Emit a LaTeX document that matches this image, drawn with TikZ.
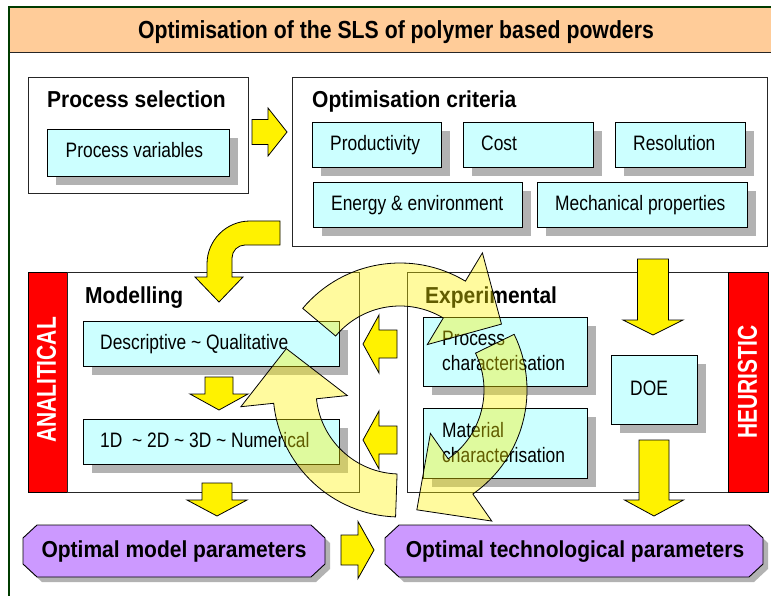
\documentclass[tikz,border=0pt]{standalone}
\usepackage{fontspec}
\setmainfont{Liberation Sans}
\usetikzlibrary{shadows}

\definecolor{bandorange}{RGB}{255,204,153}
\definecolor{boxcyan}{RGB}{204,255,255}
\definecolor{lilac}{RGB}{204,153,255}
\definecolor{framegreen}{RGB}{0,60,0}
\definecolor{shadegray}{RGB}{178,178,178}

% vertical block arrow: centre x, top y, head base y, tip y, half shaft, half head
\newcommand\vblock[6]{\draw[yarrow] ({#1-#5},#2) -- ({#1+#5},#2) -- ({#1+#5},#3) -- ({#1+#6},#3) -- (#1,#4) -- ({#1-#6},#3) -- ({#1-#5},#3) -- cycle;}
% horizontal block arrow: centre y, tail x, head base x, tip x, half shaft, half head
\newcommand\hblock[6]{\draw[yarrow] (#2,{#1-#5}) -- (#3,{#1-#5}) -- (#3,{#1-#6}) -- (#4,#1) -- (#3,{#1+#6}) -- (#3,{#1+#5}) -- (#2,{#1+#5}) -- cycle;}
% chamfered result box with its shadow: x1, y1, x2, y2
\newcommand\octbox[4]{%
  \fill[shadegray, shift={(5,5)}] ({#1+14},#2) -- ({#3-14},#2) -- (#3,{#2+13}) -- (#3,{#4-13}) -- ({#3-14},#4) -- ({#1+14},#4) -- (#1,{#4-13}) -- (#1,{#2+13}) -- cycle;
  \draw[line width=0.9pt, fill=lilac] ({#1+14},#2) -- ({#3-14},#2) -- (#3,{#2+13}) -- (#3,{#4-13}) -- ({#3-14},#4) -- ({#1+14},#4) -- (#1,{#4-13}) -- (#1,{#2+13}) -- cycle;}
% circular arrow around the cycle centre: tail angle, head base angle, tip angle
\newcommand\cycarrow[3]{\draw[cyc] (#1:127) arc[start angle=#1, end angle=#2, radius=127] -- (#2:160) -- (#3:121) -- (#2:53) -- (#2:84) arc[start angle=#2, end angle=#1, radius=84] -- cycle;}
% lettering drawn taller than the font's natural proportions; lines stacked, baseline at the last line
\newcommand\tallstack[2]{\scalebox{1}[#1]{\begin{tabular}[b]{@{}l@{}}#2\end{tabular}}}

\begin{document}
\begin{tikzpicture}[x=1pt,y=-1pt,
  panel/.style={draw=black!85, line width=0.9pt, fill=white},
  cbox/.style={draw=black, line width=0.9pt, fill=boxcyan, anchor=north west, inner sep=0pt,
    drop shadow={shadow xshift=9pt, shadow yshift=-9pt, fill=shadegray, draw=none, opacity=1}},
  lbl/.style={anchor=base west, inner sep=0pt, font=\fontsize{17.4}{20.8}\selectfont},
  head/.style={anchor=base west, inner sep=0pt, font=\fontsize{21}{25}\selectfont\bfseries},
  redbar/.style={draw=black, line width=0.8pt, fill=red},
  sidetxt/.style={rotate=90, text=white, inner sep=0pt, font=\fontsize{21}{25}\selectfont\bfseries},
  restxt/.style={anchor=base, inner sep=0pt, font=\fontsize{21}{25}\selectfont\bfseries},
  yarrow/.style={draw=black, line width=0.8pt, fill=yellow, line join=miter},
  cyc/.style={draw=black, line width=0.8pt, fill=yellow, fill opacity=0.38, line join=miter}]

\useasboundingbox (0,0) rectangle (771,596);
\clip (0,0) rectangle (771,596);
\fill[white] (0,0) rectangle (771,596);

% outer frame and title band
\fill[bandorange] (9,7) rectangle (800,53);
\draw[black!85, line width=1pt] (9,53) -- (800,53);
\draw[framegreen, line width=1.3pt] (9,7) rectangle (800,620);
\node[anchor=base, inner sep=0pt, font=\fontsize{24}{26}\selectfont\bfseries] (title) at (396,39)
  {\scalebox{0.885}[1.03]{Optimisation of the SLS of polymer based powders}};

% process selection
\draw[panel] (28,77) rectangle (248,193);
\node[head] (selhead) at (47,108) {\scalebox{1}[1.1]{Process selection}};
\node[cbox, minimum width=182pt, minimum height=47pt] (pv) at (47,129) {};
\node[lbl] (pvtxt) at (65.5,158) {\tallstack{1.2}{Process variables}};

% optimisation criteria
\draw[panel] (292,77) rectangle (767,246);
\node[head] (crithead) at (312,108) {\scalebox{1}[1.1]{Optimisation criteria}};
\node[cbox, minimum width=129pt, minimum height=45pt] (prod) at (312,122) {};
\node[cbox, minimum width=130pt, minimum height=45pt] (cost) at (463,122) {};
\node[cbox, minimum width=130pt, minimum height=45pt] (res) at (615,122) {};
\node[cbox, minimum width=209pt, minimum height=45pt] (energy) at (313,182) {};
\node[cbox, minimum width=210pt, minimum height=45pt] (mech) at (537,182) {};
\node[lbl] (prodtxt) at (330,150.5) {\tallstack{1.2}{Productivity}};
\node[lbl] (costtxt) at (481,150.5) {\tallstack{1.2}{Cost}};
\node[lbl] (restxt) at (633,150.5) {\tallstack{1.2}{Resolution}};
\node[lbl] (energytxt) at (331,210.5) {\tallstack{1.2}{Energy \& environment}};
\node[lbl] (mechtxt) at (555,210.5) {\tallstack{1.2}{Mechanical properties}};

% modelling panel
\draw[redbar] (28,272) rectangle (67,492);
\draw[panel] (67,272) rectangle (359,492);
\node[sidetxt] (anal) at (46.5,380) {\scalebox{1}[1.3]{ANALITICAL}};
\node[head] (modhead) at (85,303) {\scalebox{1}[1.1]{Modelling}};
\node[cbox, minimum width=256pt, minimum height=45pt] (desc) at (83,321) {};
\node[cbox, minimum width=256pt, minimum height=45pt] (num) at (83,419) {};
\node[lbl] (desctxt) at (100,349.5) {\tallstack{1.2}{Descriptive \textasciitilde{} Qualitative}};
\node[lbl] (numtxt) at (100,447.5) {\tallstack{1.2}{1D\ \ \textasciitilde{} 2D \textasciitilde{} 3D \textasciitilde{} Numerical}};

% experimental panel
\draw[panel] (407,272) rectangle (728,492);
\draw[redbar] (728,272) rectangle (768,492);
\node[sidetxt] (heur) at (747.5,382) {\scalebox{1}[1.3]{HEURISTIC}};
\node[head] (exphead) at (425,303) {\scalebox{1}[1.1]{Experimental}};
\node[cbox, minimum width=164pt, minimum height=69pt] (pchar) at (423,317) {};
\node[cbox, minimum width=164pt, minimum height=70pt] (mchar) at (423,408) {};
\node[cbox, minimum width=86pt, minimum height=69pt] (doe) at (611,355) {};
\node[lbl] (pchartxt) at (442,370) {\tallstack{1.2}{Process\\characterisation}};
\node[lbl] (mchartxt) at (442,462) {\tallstack{1.2}{Material\\characterisation}};
\node[lbl] (doetxt) at (630,395.5) {\tallstack{1.2}{DOE}};

% solid block arrows
\hblock{132}{252}{268}{287}{12.5}{24}
\draw[yarrow] (280,221) -- (250,221) arc[start angle=-90, end angle=-180, radius=43]
  -- (207,277) -- (195,277) -- (219,302) -- (243,277) -- (232,277) -- (232,258)
  arc[start angle=180, end angle=270, radius=13] -- (280,245) -- cycle;
\vblock{219}{377}{394}{410}{14}{29}
\vblock{217}{483}{500}{516}{15}{30}
\vblock{653}{259}{320}{335}{15.5}{30}
\vblock{654}{440}{500}{516}{15}{29.5}
\hblock{344}{397}{379}{363}{14}{29}
\hblock{440}{397}{379}{363}{14}{29}
\hblock{550}{341}{358}{374}{15}{28.5}

% results
\octbox{23}{525}{325}{577}
\octbox{385}{525}{763}{577}
\node[restxt] (optmodel) at (174,557) {\scalebox{1}[1.1]{Optimal model parameters}};
\node[restxt] (opttech) at (575,557) {\scalebox{1}[1.1]{Optimal technological parameters}};

% iteration cycle
\begin{scope}[shift={(400,390)}]
  \cycarrow{-140}{-59}{-33}
  \cycarrow{-26}{55}{82}
  \cycarrow{92}{174}{200}
\end{scope}
\end{tikzpicture}
\end{document}
